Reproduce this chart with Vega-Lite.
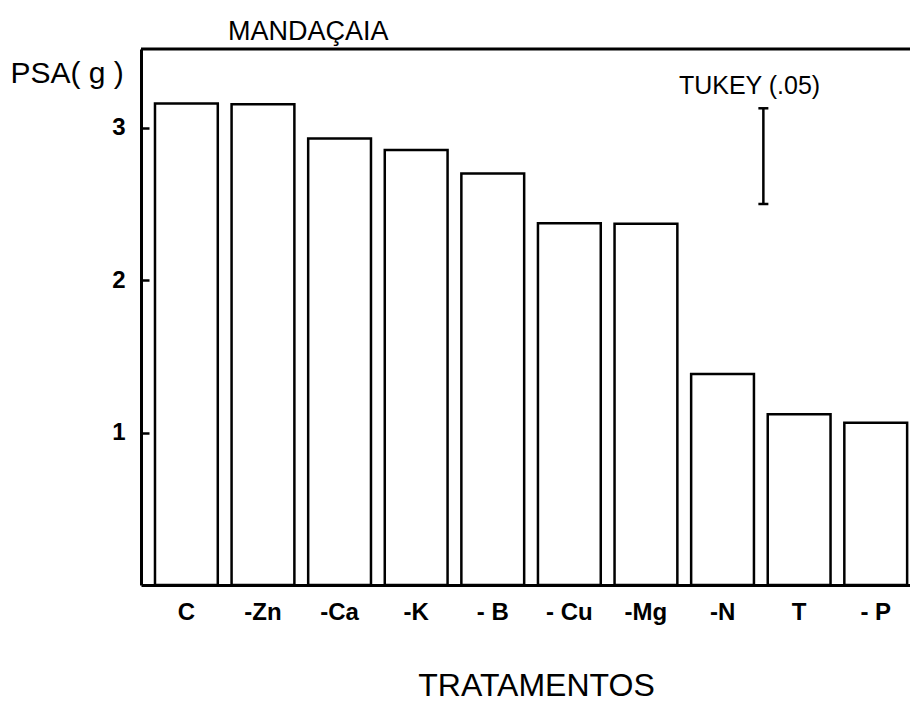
{
  "$schema": "https://vega.github.io/schema/vega-lite/v6.json",
  "width": 769,
  "height": 536,
  "autosize": {"type": "none"},
  "padding": {"left": 141, "top": 49, "right": 0, "bottom": 117},
  "background": "white",
  "config": {
    "view": {"stroke": null},
    "font": "Liberation Sans"
  },
  "title": {
    "text": "MANDAÇAIA",
    "anchor": "start",
    "frame": "group",
    "dx": 87,
    "dy": 28,
    "offset": 9,
    "baseline": "alphabetic",
    "fontSize": 27,
    "fontWeight": "normal",
    "color": "black",
    "font": "Liberation Sans"
  },
  "layer": [
    {
      "data": {
        "values": [
          {"t": "C", "psa": 3.16},
          {"t": "-Zn", "psa": 3.155},
          {"t": "-Ca", "psa": 2.93},
          {"t": "-K", "psa": 2.855},
          {"t": "- B", "psa": 2.70},
          {"t": "- Cu", "psa": 2.373},
          {"t": "-Mg", "psa": 2.37},
          {"t": "-N", "psa": 1.385},
          {"t": "T", "psa": 1.12},
          {"t": "- P", "psa": 1.065}
        ]
      },
      "mark": {"type": "bar", "fill": "white", "stroke": "black", "strokeWidth": 2.5},
      "encoding": {
        "x": {
          "field": "t",
          "type": "nominal",
          "sort": null,
          "scale": {
            "domain": ["C", "-Zn", "-Ca", "-K", "- B", "- Cu", "-Mg", "-N", "T", "- P"],
            "paddingInner": 0.18,
            "paddingOuter": 0.11,
            "align": 0.83
          },
          "axis": {
            "title": "TRATAMENTOS",
            "titleFontSize": 32,
            "titleFontWeight": "normal",
            "titleColor": "black",
            "titleX": 395,
            "titleY": 110,
            "titleAlign": "center",
            "titleBaseline": "alphabetic",
            "labelAngle": 0,
            "labelFontSize": 24,
            "labelFontWeight": "bold",
            "labelColor": "black",
            "labelBaseline": "top",
            "labelPadding": 15,
            "ticks": false,
            "domainColor": "black",
            "domainWidth": 3,
            "grid": false
          }
        },
        "y": {
          "field": "psa",
          "type": "quantitative",
          "scale": {"domain": [0, 3.517], "nice": false, "zero": true},
          "axis": {
            "values": [1, 2, 3],
            "format": "d",
            "title": "PSA( g )",
            "titleAngle": 0,
            "titleAlign": "left",
            "titleBaseline": "alphabetic",
            "titleX": -131,
            "titleY": 33,
            "titleFontSize": 30,
            "titleFontWeight": "normal",
            "titleColor": "black",
            "labelFontSize": 24,
            "labelFontWeight": "bold",
            "labelColor": "black",
            "labelPadding": 24,
            "tickSize": -8,
            "tickWidth": 2.5,
            "tickColor": "black",
            "domainColor": "black",
            "domainWidth": 3,
            "grid": false
          }
        }
      }
    },
    {
      "data": {"values": [{"top": 3.517}]},
      "mark": {"type": "rule", "stroke": "black", "strokeWidth": 3},
      "encoding": {
        "y": {"field": "top", "type": "quantitative"}
      }
    },
    {
      "data": {"values": [{"lo": 2.5, "hi": 3.128, "label": "TUKEY (.05)", "labelY": 3.274}]},
      "layer": [
        {
          "mark": {"type": "rule", "stroke": "black", "strokeWidth": 2.5},
          "encoding": {
            "x": {"datum": "-N", "bandPosition": 1.15},
            "y": {"field": "lo", "type": "quantitative"},
            "y2": {"field": "hi"}
          }
        },
        {
          "mark": {"type": "point", "shape": "M-1,0L1,0", "size": 100, "stroke": "black", "strokeWidth": 2.5, "filled": false, "opacity": 1},
          "encoding": {
            "x": {"datum": "-N", "bandPosition": 1.15},
            "y": {"field": "lo", "type": "quantitative"}
          }
        },
        {
          "mark": {"type": "point", "shape": "M-1,0L1,0", "size": 100, "stroke": "black", "strokeWidth": 2.5, "filled": false, "opacity": 1},
          "encoding": {
            "x": {"datum": "-N", "bandPosition": 1.15},
            "y": {"field": "hi", "type": "quantitative"}
          }
        },
        {
          "mark": {"type": "text", "fontSize": 25, "color": "black", "align": "center", "baseline": "middle", "font": "Liberation Sans"},
          "encoding": {
            "x": {"datum": "-N", "bandPosition": 0.93},
            "y": {"field": "labelY", "type": "quantitative"},
            "text": {"field": "label"}
          }
        }
      ]
    }
  ]
}
